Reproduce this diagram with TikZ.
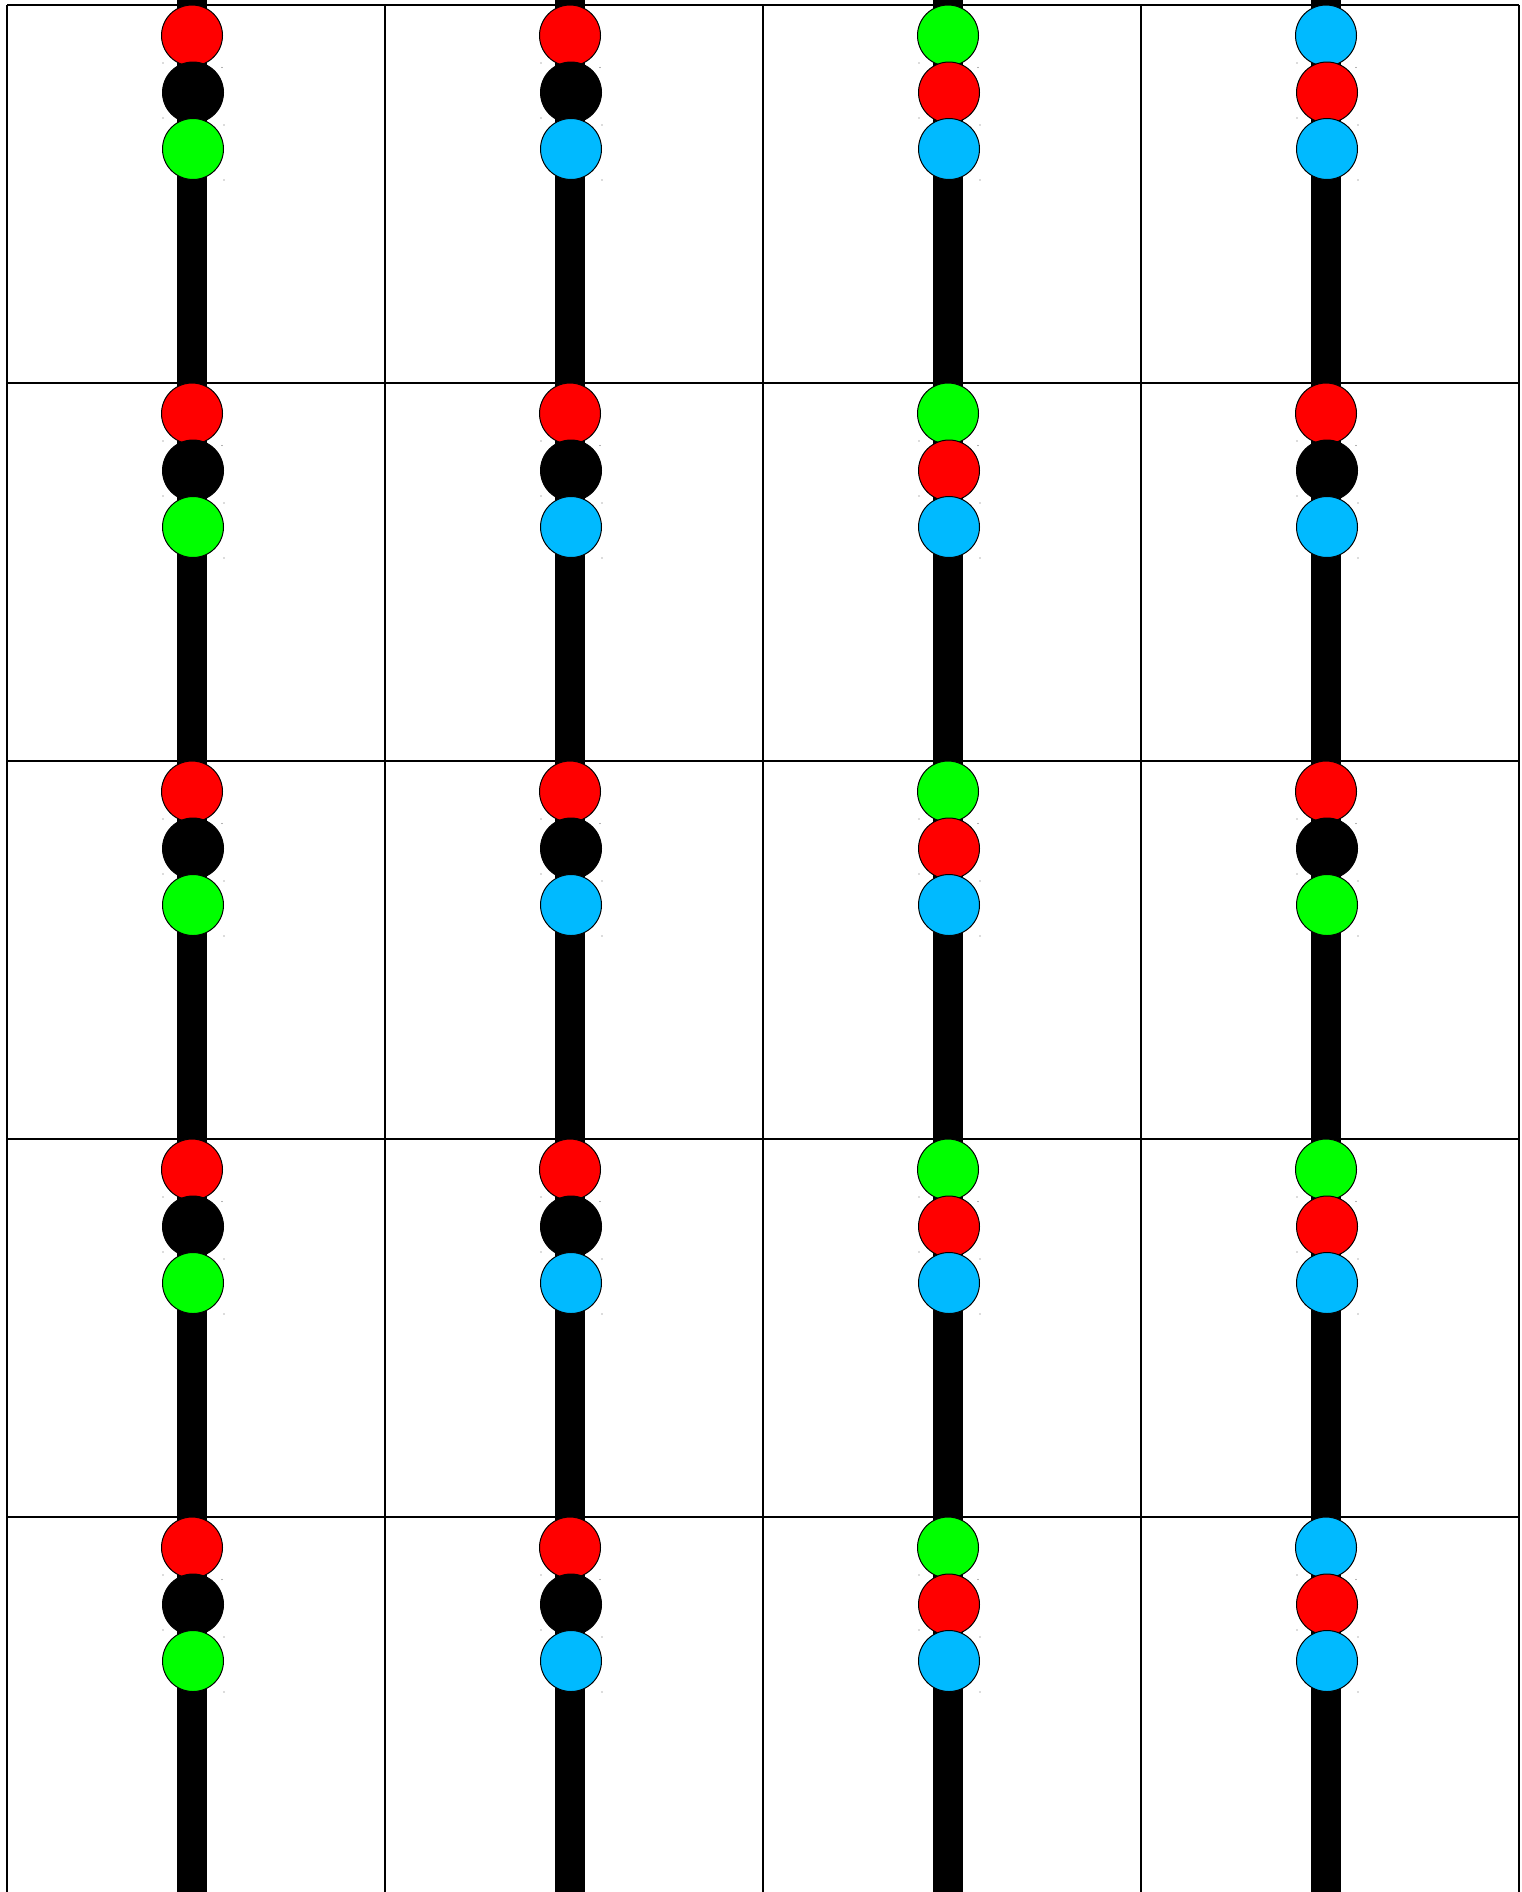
\documentclass[tikz,border=0pt]{standalone}
\definecolor{cred}{RGB}{255,0,0}
\definecolor{cgreen}{RGB}{0,255,0}
\definecolor{cblue}{RGB}{0,186,255}
\definecolor{cblack}{RGB}{0,0,0}
\begin{document}
\begin{tikzpicture}[x=0.5pt,y=-0.5pt,
  lamp/.style={circle,draw=black,line width=0.5pt,minimum size=30.5pt,inner sep=0pt,fill=#1},
  gridline/.style={line width=1pt,black},
  pole/.style={line width=15pt,black},
  speck/.style={fill=black!60,inner sep=0pt,minimum size=0.6pt,circle}]
\useasboundingbox (0,0) rectangle (1522,1892);
% poles
\foreach \c in {0,1,2,3}{
  \coordinate (pt\c) at (191.5+378*\c,0);
  \coordinate (pb\c) at (191.5+378*\c,1892);
  \draw[pole] (pt\c) -- (pb\c);
}
% grid
\foreach \c in {0,1,2,3,4}{
  \coordinate (gt\c) at (7+378*\c,5);
  \coordinate (gb\c) at (7+378*\c,1892);
  \draw[gridline] (gt\c) -- (gb\c);
}
\foreach \r in {0,1,2,3,4}{
  \coordinate (gl\r) at (7,5+378*\r);
  \coordinate (gr\r) at (1519,5+378*\r);
  \draw[gridline] (gl\r) -- (gr\r);
}
% lamps
\foreach \r/\c/\ta/\tb/\tc in {
  0/0/cred/cblack/cgreen, 0/1/cred/cblack/cblue, 0/2/cgreen/cred/cblue, 0/3/cblue/cred/cblue,
  1/0/cred/cblack/cgreen, 1/1/cred/cblack/cblue, 1/2/cgreen/cred/cblue, 1/3/cred/cblack/cblue,
  2/0/cred/cblack/cgreen, 2/1/cred/cblack/cblue, 2/2/cgreen/cred/cblue, 2/3/cred/cblack/cgreen,
  3/0/cred/cblack/cgreen, 3/1/cred/cblack/cblue, 3/2/cgreen/cred/cblue, 3/3/cgreen/cred/cblue,
  4/0/cred/cblack/cgreen, 4/1/cred/cblack/cblue, 4/2/cgreen/cred/cblue, 4/3/cblue/cred/cblue}{
  \pgfmathsetmacro{\cx}{7+378*\c+185}
  \pgfmathsetmacro{\cy}{5+378*\r}
  \node[lamp=\ta] (l\r\c a) at (\cx,\cy+30.5) {};
  \node[lamp=\tb] (l\r\c b) at (\cx+1,\cy+87.5) {};
  \node[lamp=\tc] (l\r\c c) at (\cx+1,\cy+144) {};
  \node[speck] (s\r\c a) at (\cx-29,\cy+58) {};
  \node[speck] (s\r\c b) at (\cx+30,\cy+62.5) {};
  \node[speck] (s\r\c c) at (\cx-29,\cy+113) {};
  \node[speck] (s\r\c d) at (\cx+32,\cy+120) {};
  \node[speck] (s\r\c e) at (\cx+32,\cy+175) {};
}
\end{tikzpicture}
\end{document}
